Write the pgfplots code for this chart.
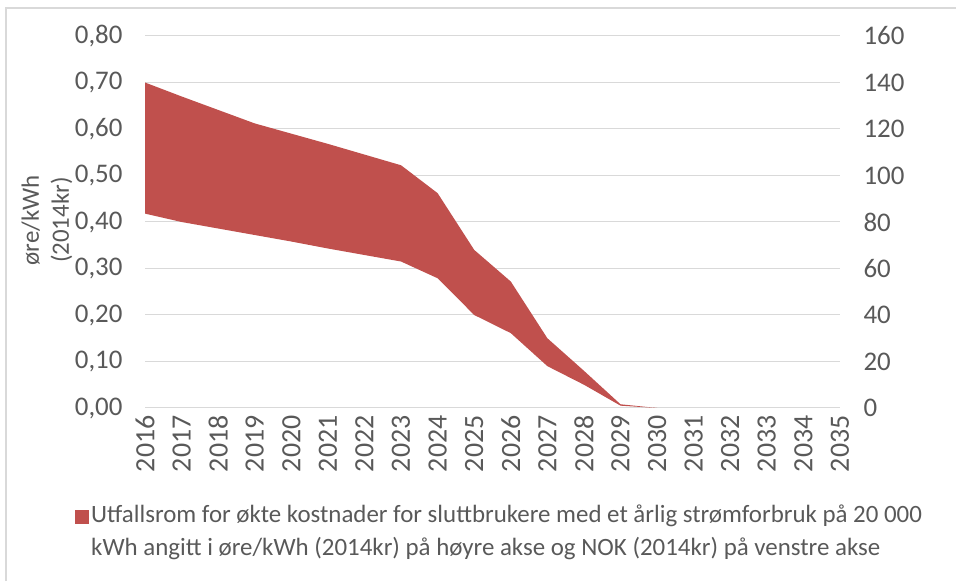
\documentclass[border=0pt]{standalone}
\usepackage{pgfplots}
\pgfplotsset{compat=1.18}
\usepackage{pgfplotstable}
\usepgfplotslibrary{fillbetween}
\usepackage{fontspec}
\setmainfont{Carlito}
\definecolor{areared}{HTML}{C0504D}
\definecolor{txt}{HTML}{595959}
\definecolor{grd}{HTML}{D9D9D9}

\pgfplotstableread{
year top bot
2016 0.700 0.418
2017 0.670 0.400
2018 0.641 0.386
2019 0.612 0.372
2020 0.590 0.358
2021 0.568 0.343
2022 0.545 0.329
2023 0.522 0.315
2024 0.462 0.279
2025 0.340 0.200
2026 0.272 0.161
2027 0.150 0.090
2028 0.080 0.050
2029 0.008 0.005
2030 0.000 0.000
}\datatable

\begin{document}
\begin{tikzpicture}
\path (0bp,0bp) rectangle (957bp,581bp);
\draw[grd, line width=1.5bp] (6bp,0bp) -- (6bp,573bp) -- (956bp,573bp);
\begin{axis}[
  at={(145bp,173bp)}, anchor=south west,
  scale only axis, width=695bp, height=372bp,
  xmin=2016, xmax=2035, ymin=0, ymax=0.8,
  axis line style={draw=none},
  major tick length=0pt,
  xtick={2016,...,2035},
  ytick={0,0.1,...,0.8},
  ymajorgrids, grid style={grd, line width=1bp},
  /pgf/number format/assume math mode=true,
  tick label style={font=\fontsize{27}{30}\selectfont, text=txt},
  x tick label style={rotate=90, anchor=east, /pgf/number format/1000 sep={}, font=\fontsize{28}{30}\selectfont},
  xticklabel shift=4bp,
  yticklabel shift=19bp,
  yticklabel style={/pgf/number format/.cd, fixed, fixed zerofill, precision=2, use comma},
  ylabel={øre/kWh\\(2014kr)},
  ylabel style={at={(axis description cs:-0.141,0.505)}, anchor=center, align=center, font=\fontsize{25}{30}\selectfont, text=txt},
  legend style={at={(axis description cs:-0.105,-0.236)}, anchor=north west, draw=none, fill=none,
    font=\fontsize{25}{33}\selectfont, text=txt, cells={anchor=west}},
]
\addplot[name path=top, draw=none, forget plot] table[x=year, y=top] {\datatable};
\addplot[name path=bot, draw=none, forget plot] table[x=year, y=bot] {\datatable};
\addplot[areared, draw=none,
  legend image code/.code={\fill[areared] (3bp,-3.5bp) rectangle (17bp,10.5bp);}] fill between[of=top and bot];
\addlegendentry{\begin{tabular}{@{}l@{}}Utfallsrom for økte kostnader for sluttbrukere med et årlig strømforbruk på 20 000\\kWh angitt i øre/kWh (2014kr) på høyre akse og NOK (2014kr) på venstre akse\end{tabular}}
\end{axis}
\begin{axis}[
  at={(145bp,173bp)}, anchor=south west,
  scale only axis, width=695bp, height=372bp,
  xmin=2016, xmax=2035, ymin=0, ymax=160,
  axis y line*=right,
  xtick=\empty,
  axis line style={draw=none},
  major tick length=0pt,
  ytick={0,20,...,160},
  /pgf/number format/assume math mode=true,
  tick label style={font=\fontsize{27}{30}\selectfont, text=txt},
  yticklabel shift=20bp,
]
\addplot[draw=none, fill=none] coordinates {(2016,0) (2035,160)};
\end{axis}
\end{tikzpicture}
\end{document}
